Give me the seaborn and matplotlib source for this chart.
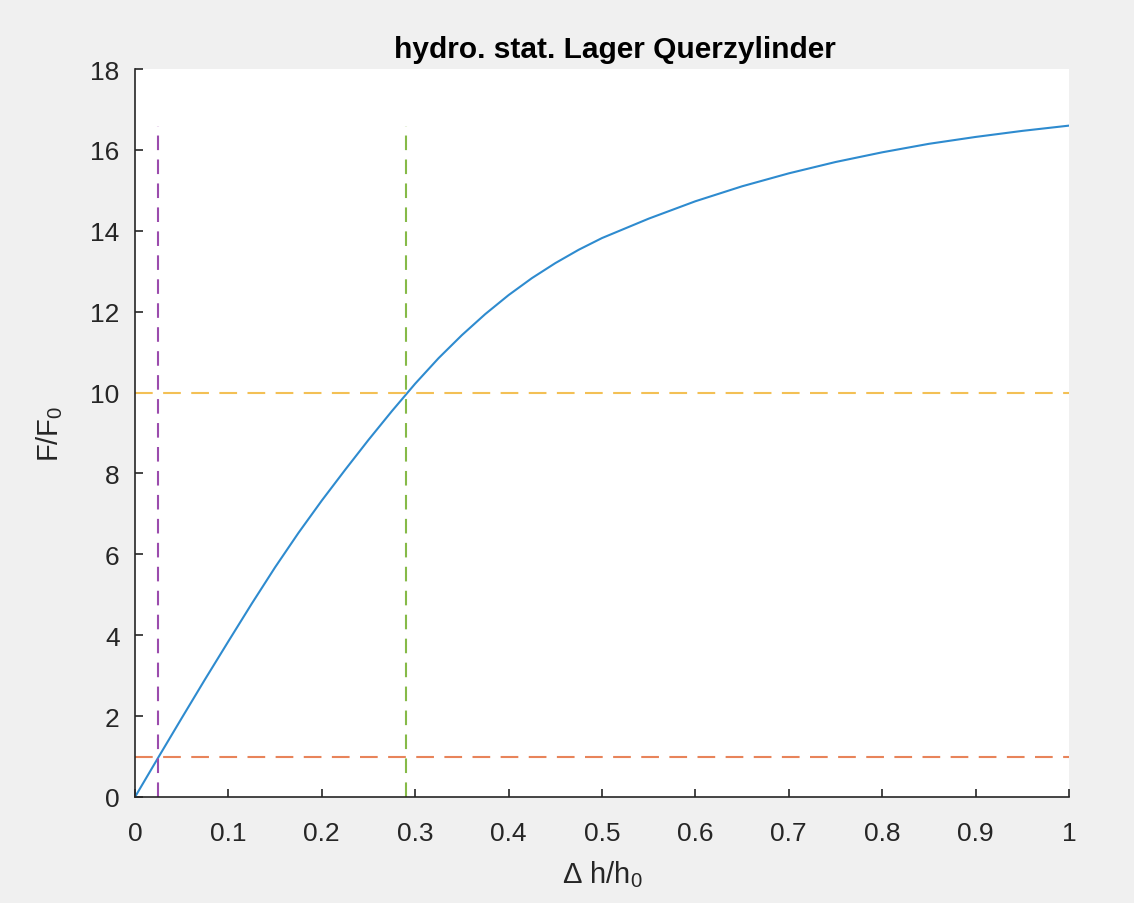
import numpy as np
import pandas as pd
import matplotlib
matplotlib.use("Agg")
import matplotlib.pyplot as plt
import seaborn as sns

# Relative film-thickness change and resulting load ratio
dh_rel = [0.0, 0.025, 0.05, 0.075, 0.1, 0.125, 0.15, 0.175, 0.2, 0.225, 0.25,
          0.275, 0.3, 0.325, 0.35, 0.375, 0.4, 0.425, 0.45, 0.475, 0.5,
          0.55, 0.6, 0.65, 0.7, 0.75, 0.8, 0.85, 0.9, 0.95, 1.0]
f_rel = [0.0, 0.98, 1.95, 2.91, 3.85, 4.78, 5.68, 6.53, 7.33, 8.09, 8.83,
         9.54, 10.22, 10.85, 11.42, 11.94, 12.41, 12.83, 13.20, 13.53, 13.82,
         14.30, 14.73, 15.10, 15.42, 15.70, 15.94, 16.15, 16.32, 16.47, 16.60]

# Reference levels
f_min = 1.0        # F/F0 = 1
f_op = 10.0        # F/F0 = 10
dh_min = 0.025     # dh/h0 at F/F0 = 1
dh_op = 0.29       # dh/h0 at F/F0 = 10

x_ticks = [0, 0.1, 0.2, 0.3, 0.4, 0.5, 0.6, 0.7, 0.8, 0.9, 1]
x_ticklabels = ["0", "0.1", "0.2", "0.3", "0.4", "0.5", "0.6", "0.7", "0.8", "0.9", "1"]
y_ticks = [0, 2, 4, 6, 8, 10, 12, 14, 16, 18]

sns.set_theme(style="white")
plt.rcParams["font.family"] = ["Liberation Sans", "DejaVu Sans"]
plt.rcParams["mathtext.fontset"] = "custom"
plt.rcParams["mathtext.rm"] = "Liberation Sans"
plt.rcParams["mathtext.it"] = "Liberation Sans"

fig = plt.figure(figsize=(11.34, 9.04), dpi=100, facecolor="#f0f0f0")
ax = fig.add_axes([135 / 1134, 1 - 798 / 904, (1069 - 135) / 1134, (798 - 70) / 904])
ax.set_facecolor("white")

df = pd.DataFrame({"dh": dh_rel, "F": f_rel})
sns.lineplot(data=df, x="dh", y="F", ax=ax, color="#2E8BCF", linewidth=1.5)

f_top = max(f_rel)
ax.hlines(f_min, 0, 1, colors="#E8845A", linestyles=(0, (8.5, 5)), linewidth=1.5)
ax.hlines(f_op, 0, 1, colors="#F3C055", linestyles=(0, (8.5, 5)), linewidth=1.5)
ax.vlines(dh_min, 0, f_top, colors="#9B4CAD", linestyles=(0, (7, 4.5)), linewidth=1.5)
ax.vlines(dh_op, 0, f_top, colors="#86BA48", linestyles=(0, (7, 4.5)), linewidth=1.5)

ax.set_xlim(0, 1)
ax.set_ylim(0, 18)
ax.set_xticks(x_ticks)
ax.set_xticklabels(x_ticklabels)
ax.set_yticks(y_ticks)

for side in ("top", "right"):
    ax.spines[side].set_visible(False)
for side in ("left", "bottom"):
    ax.spines[side].set_color("#262626")
    ax.spines[side].set_linewidth(1.2)

ax.tick_params(axis="both", which="major", bottom=True, left=True, top=False, right=False,
               direction="in", length=6, width=1.2, color="#262626",
               labelcolor="#262626", labelsize=19)
ax.tick_params(axis="x", pad=17)
ax.tick_params(axis="y", pad=11)

ax.set_title("hydro. stat. Lager Querzylinder", fontsize=21.5, fontweight="bold",
             color="black", pad=9, x=0.514)
ax.set_xlabel(r"Δ h/h$_0$", fontsize=21, color="#262626", labelpad=10)
ax.set_ylabel(r"F/F$_0$", fontsize=21, color="#262626", labelpad=18)

fig.savefig("out.png", dpi=100, facecolor=fig.get_facecolor())
